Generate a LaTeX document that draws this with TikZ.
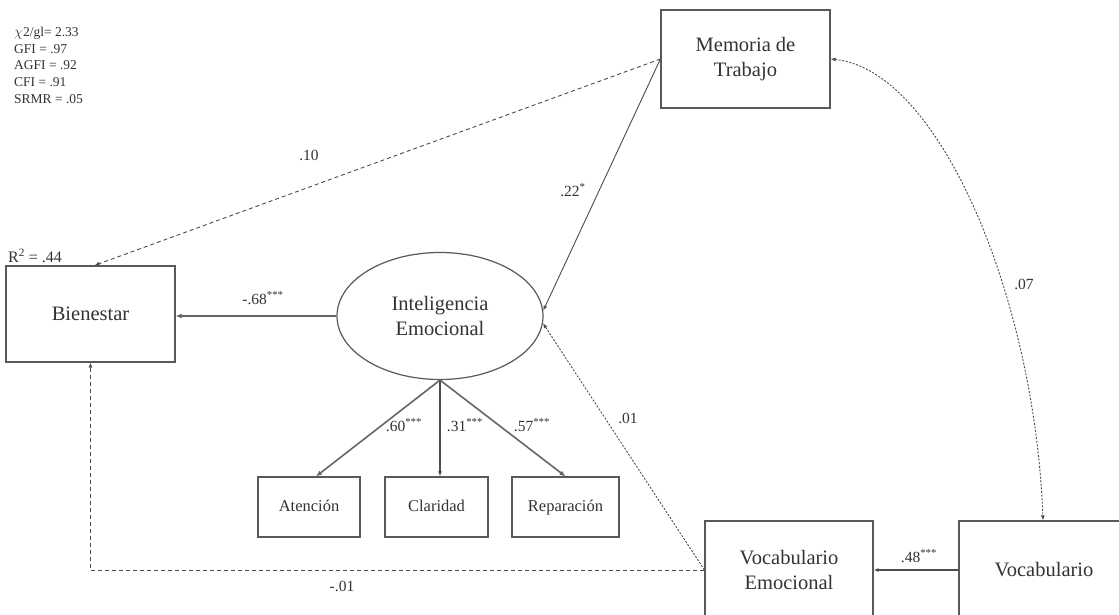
\documentclass[tikz,border=0pt]{standalone}
\usepackage{fontspec}
\setmainfont{Liberation Serif}
\usetikzlibrary{arrows.meta,shapes.geometric,calc}
\begin{document}
\begin{tikzpicture}[x=1pt,y=-1pt,
  every node/.style={text=black!80},
  var/.style={draw=black!65,line width=1.2pt,fill=white,inner sep=0pt,align=center,
    font=\fontsize{20.5}{25}\selectfont},
  ind/.style={draw=black!65,line width=1.2pt,fill=white,inner sep=0pt,align=center,
    minimum height=60pt,text height=12pt,text depth=4pt,font=\fontsize{16.5}{20}\selectfont},
  lbl/.style={font=\fontsize{15.5}{18}\selectfont,inner sep=1pt},
  tip/.style={-{Latex[length=5pt,width=4pt]}},
  conn/.style={draw=black!70,line width=0.9pt,tip},
  dsh/.style={conn,dash pattern=on 4pt off 3pt},
  dot/.style={conn,dash pattern=on 2pt off 1.6pt},
  thick/.style={draw=black!60,line width=2pt,-{Latex[length=6pt,width=5pt]}}
]
\clip (0,0) rectangle (1119,615);
\fill[white] (0,0) rectangle (1119,615);

% fit indices
\node[anchor=north west,align=left,inner sep=0pt,
  font=\fontsize{13.5}{16.7}\selectfont] (fit) at (14,27)
  {$\chi$2/gl= 2.33\\GFI = .97\\AGFI = .92\\CFI = .91\\SRMR = .05};

% nodes
\node[var,minimum width=169pt,minimum height=96pt] (bien) at (90.5,314) {Bienestar};
\node[var,minimum width=169pt,minimum height=98pt] (mem) at (745.5,59) {Memoria de\\Trabajo};
\node[var,ellipse,minimum width=206pt,minimum height=127pt] (ell) at (440,316) {Inteligencia\\Emocional};
\node[var,minimum width=168pt,minimum height=98pt] (ve) at (789,570) {Vocabulario\\Emocional};
\node[var,minimum width=170pt,minimum height=98pt] (voc) at (1044,570) {Vocabulario};
\node[ind,minimum width=102pt] (at) at (309,507) {Atención};
\node[ind,minimum width=103pt] (cl) at (436.5,507) {Claridad};
\node[ind,minimum width=107pt] (rep) at (565.5,507) {Reparación};

\node[anchor=west,font=\fontsize{16}{18}\selectfont,inner sep=0pt] (r2) at (8,256) {R\textsuperscript{2} = .44};

% connectors
\draw[thick] (ell.west) -- (ell.west -| bien.east);
\draw[thick,line width=1.6pt] (ell.south) -- ($(at.north)+(7,0)$);
\draw[conn,line width=1.2pt] (ell.south) -- ($(cl.north)+(3.5,0)$);
\draw[thick,line width=1.6pt] (ell.south) -- (rep.north);
\draw[dsh] (mem.west) -- ($(bien.north)+(4,0)$);
\draw[conn] (mem.west) -- (ell.3);
\draw[dot] (ve.west) -- (ell.-4);
\draw[dsh] (ve.west) -| (bien.south);
\draw[conn,line width=1.2pt] (voc.west) -- (ve.east);
\draw[dot,{Latex[length=5pt,width=4pt]}-{Latex[length=5pt,width=4pt]}]
  (mem.east) .. controls (940,70) and (1035,300) .. ($(voc.north)+(-1,0)$);

% labels
\node[lbl] (l10) at (309,155) {.10};
\node[lbl] (l22) at (573,190) {.22\textsuperscript{*}};
\node[lbl] (l68) at (263,298) {-.68\textsuperscript{***}};
\node[lbl] (l60) at (404,425) {.60\textsuperscript{***}};
\node[lbl] (l31) at (465,425) {.31\textsuperscript{***}};
\node[lbl] (l57) at (532,425) {.57\textsuperscript{***}};
\node[lbl] (l01a) at (628,418) {.01};
\node[lbl] (l07) at (1024,284) {.07};
\node[lbl] (l48) at (919,556) {.48\textsuperscript{***}};
\node[lbl] (l01b) at (342,586) {-.01};
\end{tikzpicture}
\end{document}
